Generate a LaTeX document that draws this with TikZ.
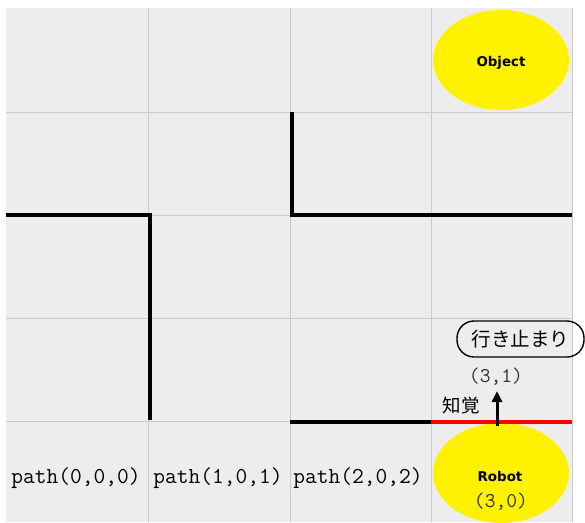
\documentclass[tikz,border=0pt]{standalone}
\usepackage{fontspec}
\usetikzlibrary{arrows.meta,shapes.geometric}
\newfontfamily\cjk{Noto Sans CJK JP}
\newfontfamily\lblfont{DejaVu Sans}
\definecolor{bggray}{HTML}{EDEDED}
\definecolor{gridgray}{HTML}{CACACA}
\definecolor{coordgray}{HTML}{333333}
\begin{document}
\begin{tikzpicture}[x=1pt,y=-1pt,
  wall/.style={line width=4pt,black},
  redwall/.style={line width=4pt,red},
  blob/.style={ellipse,fill=yellow,minimum width=136pt,minimum height=100pt,inner sep=0pt},
  pathlbl/.style={font=\ttfamily\fontsize{22.8}{24}\selectfont,text=black,inner sep=0pt},
  coordlbl/.style={font=\ttfamily\fontsize{21}{23}\selectfont,text=coordgray,inner sep=0pt},
  blobtxt/.style={font=\lblfont\bfseries\fontsize{13.4}{15}\selectfont,inner sep=0pt},
  cjklbl/.style={font=\cjk\fontsize{18.5}{20}\selectfont,inner sep=0pt},
  deadend/.style={draw=black,line width=1.4pt,rounded corners=17pt,minimum height=36pt,minimum width=127pt,font=\cjk\fontsize{19.5}{21}\selectfont,inner sep=0pt}
]
\useasboundingbox (0,0) rectangle (585,522);
% background
\fill[white] (0,0) rectangle (585,522);
\fill[bggray] (6,8) rectangle (572,522);
% grid
\foreach \gx in {148,290,431} \draw[gridgray,line width=1pt] (\gx,8) -- (\gx,522);
\draw[gridgray,line width=1pt] (572,8) -- (572,522);
\foreach \gy in {112,215,318,421} \draw[gridgray,line width=1pt] (6,\gy) -- (572,\gy);
% yellow ellipses
\node[blob] (object) at (501,60) {};
\node[blob] (robot) at (501,473) {};
\node[blobtxt] (objtxt) at (501,63) {Object};
\node[blobtxt] (robtxt) at (500,476) {Robot};
\node[coordlbl] (c30) at (501,502) {(3,0)};
% walls
\draw[wall] (6,215) -- (150,215) -- (150,420);
\draw[wall] (292,112) -- (292,215) -- (572,215);
\draw[wall] (290,422) -- (431,422);
\draw[redwall] (431,422) -- (572,422);
% path labels
\node[pathlbl] (p0) at (76,478) {path(0,0,0)};
\node[pathlbl] (p1) at (218,478) {path(1,0,1)};
\node[pathlbl] (p2) at (358,478) {path(2,0,2)};
% perception arrow
\coordinate (arrS) at (497,426);
\coordinate (arrE) at (497,391);
\draw[line width=3pt,-{Triangle[length=11pt,width=10pt]}] (arrS) -- (arrE);
\node[cjklbl] (perc) at (461,405) {知覚};
\node[coordlbl] (c31) at (496,377) {(3,1)};
\node[deadend] (dead) at (520.5,339) {行き止まり};
\end{tikzpicture}
\end{document}
